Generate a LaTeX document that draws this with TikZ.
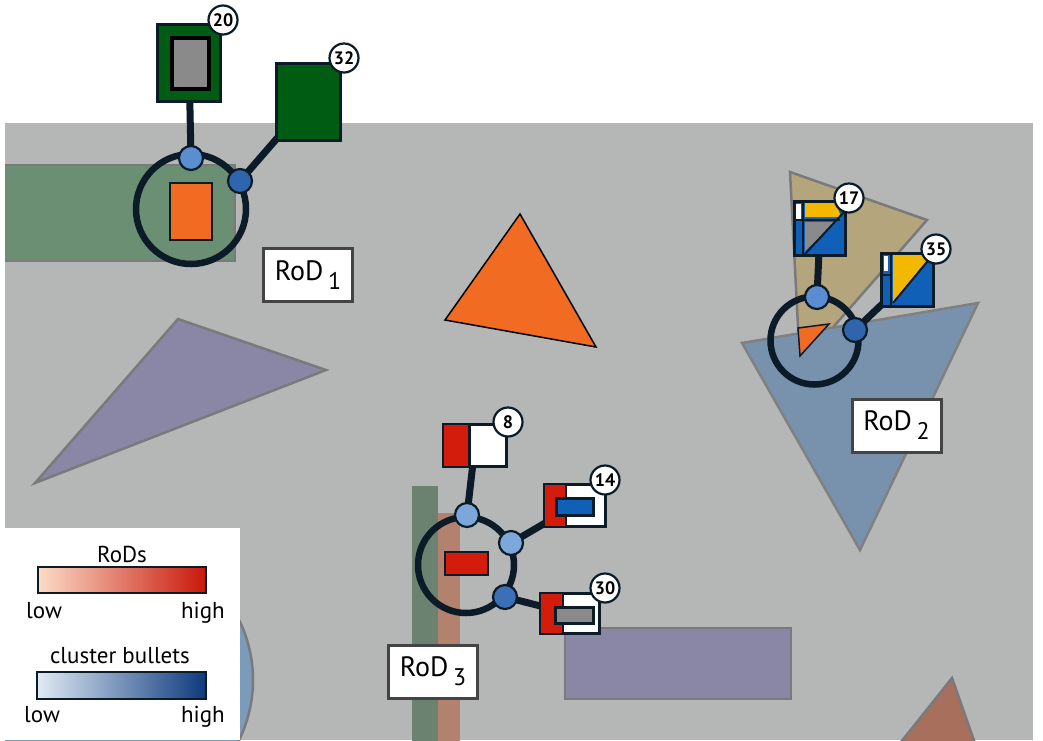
\documentclass[tikz,border=0pt]{standalone}
\usepackage{fontspec}
\setmainfont{PT Sans}
\usetikzlibrary{shapes.geometric}
\pgfdeclarelayer{bg}
\pgfdeclarelayer{conn}
\pgfsetlayers{bg,conn,main}
\definecolor{ink}{HTML}{0B1B27}
\definecolor{bgray}{HTML}{B5B6B6}
\definecolor{edgegray}{HTML}{7A7A7C}
\definecolor{grn}{HTML}{6A8F72}
\definecolor{grnbar}{HTML}{6C8270}
\definecolor{brnbar}{HTML}{B3826E}
\definecolor{purp}{HTML}{8A86A6}
\definecolor{orng}{HTML}{F26B22}
\definecolor{tan}{HTML}{B4A57D}
\definecolor{steel}{HTML}{7892AD}
\definecolor{circblue}{HTML}{7B9BBB}
\definecolor{brtri}{HTML}{A8705C}
\definecolor{dkgreen}{HTML}{005C12}
\definecolor{glyphblue}{HTML}{1060B8}
\definecolor{glyphyellow}{HTML}{F5B800}
\definecolor{glyphgray}{HTML}{8A8A8A}
\definecolor{glyphred}{HTML}{D41C0C}
\definecolor{labgray}{HTML}{444444}
\definecolor{bA}{HTML}{5A8ED0}
\definecolor{bB}{HTML}{2F65AD}
\definecolor{bC}{HTML}{7BA7DA}
\definecolor{bD}{HTML}{3B70B7}
\definecolor{rodlo}{HTML}{FBDCC8}
\definecolor{rodmid}{HTML}{EE8A5A}
\definecolor{rodhi}{HTML}{C8180A}
\definecolor{cblo}{HTML}{E0EAF4}
\definecolor{cbmid}{HTML}{7EA6D2}
\definecolor{cbhi}{HTML}{0D3A7D}
\begin{document}
\begin{tikzpicture}[x=1pt,y=-1pt,
  conn/.style={draw=ink,line width=7pt},
  ring/.style={circle,draw=ink,line width=6.5pt,inner sep=0pt},
  bullet/.style={circle,draw=ink,line width=2.2pt,inner sep=0pt,minimum size=24pt},
  glyph/.style={rectangle,draw=ink,line width=3pt,inner sep=0pt},
  badge/.style={circle,draw=ink,fill=white,line width=2.2pt,inner sep=0pt,minimum size=29pt,font=\bfseries\fontsize{18}{18}\selectfont},
  rodlabel/.style={rectangle,draw=labgray,fill=white,line width=3pt,minimum width=89pt,minimum height=53pt,inner sep=0pt,font=\fontsize{28}{28}\selectfont},
  legtext/.style={inner sep=0pt,font=\fontsize{23}{23}\selectfont},
  bgshape/.style={draw=edgegray,line width=2.5pt}
]
\useasboundingbox (0,0) rectangle (1043,740);
\begin{pgfonlayer}{bg}
\fill[white] (0,0) rectangle (1043,740);
\fill[bgray] (5,123) rectangle (1033,740);
\begin{scope}
\clip (5,123) rectangle (1033,740);
\filldraw[bgshape,fill=grn] (0,165) rectangle (235,261);
\fill[grnbar] (412,486) rectangle (438,745);
\fill[brnbar] (438,513) rectangle (460,745);
\filldraw[bgshape,fill=purp] (178,319) -- (326,370) -- (35,483) -- cycle;
\filldraw[fill=orng,draw=black,line width=1.5pt] (520,214) -- (596,347) -- (445,320) -- cycle;
\filldraw[bgshape,fill=tan] (790,172) -- (927,220) -- (800,365) -- cycle;
\filldraw[bgshape,fill=steel,draw=gray] (742,343) -- (978,303) -- (860,550) -- cycle;
\filldraw[bgshape,fill=circblue] (117,680) circle[radius=136];
\filldraw[bgshape,fill=purp] (565,628) rectangle (791,699);
\filldraw[bgshape,fill=brtri] (952,678) -- (978,752) -- (893,752) -- cycle;
\end{scope}
\filldraw[fill=orng,draw=ink,line width=2pt] (170,183) rectangle (212,240);
\filldraw[fill=orng,draw=ink,line width=1.5pt] (798,328) -- (829,324) -- (800,356) -- cycle;
\filldraw[fill=glyphred,draw=ink,line width=2pt] (445,552) rectangle (488,575);
\end{pgfonlayer}

% ---------- cluster 1 ----------
\node[bullet,fill=bA] (b11) at (191,158) {};
\node[bullet,fill=bB] (b12) at (240,181) {};
\node[glyph,fill=dkgreen,minimum width=63pt,minimum height=77pt] (s20) at (189,63) {};
\filldraw[fill=glyphgray,draw=black,line width=4pt] (172,38) rectangle (209,89);
\node[badge] (n20) at (223,20) {20};
\node[glyph,fill=dkgreen,minimum width=64pt,minimum height=77pt] (s32) at (308.5,102) {};
\node[badge] (n32) at (344,58) {32};
\node[rodlabel] (rod1) at (308,275) {RoD\,\raisebox{-0.32em}{\fontsize{24}{24}\selectfont 1}};

% ---------- cluster 2 ----------
\node[bullet,fill=bA] (b21) at (817,297) {};
\node[bullet,fill=bB] (b22) at (855,330) {};
\node[glyph,fill=glyphblue,minimum width=51pt,minimum height=54pt] (s17) at (820,228.5) {};
\fill[white] (795.5,203.5) rectangle (801,219);
\fill[glyphyellow] (805,203) -- (836,203) -- (841,217) -- (805,217) -- cycle;
\fill[glyphgray] (805,222) -- (836,222) -- (805,251) -- cycle;
\draw[ink,line width=2pt] (803,202) -- (803,255.5);
\draw[ink,line width=2pt] (795,220) -- (840,220);
\draw[ink,line width=2pt] (805,254) -- (845,211);
\node[badge] (n17) at (849,198) {17};
\node[glyph,fill=glyphblue,minimum width=52pt,minimum height=53pt] (s35) at (907.5,280) {};
\fill[white] (883.5,256) rectangle (888,271);
\fill[glyphyellow] (893,255) -- (931,255) -- (893,302) -- cycle;
\draw[ink,line width=2pt] (891,254.5) -- (891,306);
\draw[ink,line width=2pt] (882,275) -- (891,275);
\draw[ink,line width=2pt] (893,303) -- (932,256);
\node[badge] (n35) at (936,249) {35};
\node[rodlabel] (rod2) at (896.5,425.5) {RoD\,\raisebox{-0.32em}{\fontsize{24}{24}\selectfont 2}};

% ---------- cluster 3 ----------
\node[bullet,fill=bC] (b31) at (467,515) {};
\node[bullet,fill=bC] (b32) at (511,543) {};
\node[bullet,fill=bD] (b33) at (505,597) {};
\node[glyph,fill=white,minimum width=63pt,minimum height=42pt] (s8) at (475,445.5) {};
\fill[glyphred] (444,425) rectangle (469,466);
\draw[ink,line width=2.5pt] (469.5,424) -- (469.5,467);
\node[badge] (n8) at (508,422) {8};
\node[glyph,fill=white,minimum width=61pt,minimum height=42pt] (s14) at (575,505.5) {};
\fill[glyphred] (545,485) rectangle (565,526);
\draw[ink,line width=2.5pt] (566,484) -- (566,527);
\filldraw[fill=glyphblue,draw=ink,line width=3pt] (556,498.5) rectangle (593,515);
\node[badge] (n14) at (605,480) {14};
\node[glyph,fill=white,minimum width=59pt,minimum height=40pt] (s30) at (570,613.5) {};
\fill[glyphred] (541,594) rectangle (562,633);
\draw[ink,line width=2.5pt] (563,593) -- (563,634);
\filldraw[fill=glyphgray,draw=ink,line width=3pt] (555,607.5) rectangle (593,623);
\node[badge] (n30) at (605,588) {30};
\node[rodlabel] (rod3) at (433,671.5) {RoD\,\raisebox{-0.32em}{\fontsize{24}{24}\selectfont 3}};

% ---------- rings and connectors ----------
\begin{pgfonlayer}{conn}
\node[ring,minimum size=110pt] (ring1) at (191,209) {};
\node[ring,minimum size=88pt] (ring2) at (814.5,340.5) {};
\node[ring,minimum size=96pt] (ring3) at (466,565) {};
\draw[conn] (b11.center) -- (s20.center);
\draw[conn] (b12.center) -- (s32.center);
\draw[conn] (b21.center) -- (s17.center);
\draw[conn] (b22.center) -- (s35.center);
\draw[conn] (b31.center) -- (s8.center);
\draw[conn] (b32.center) -- (s14.center);
\draw[conn] (b33.center) -- (s30.center);
\end{pgfonlayer}

% ---------- legend ----------
\fill[white] (0,528) rectangle (240,740);
\node[legtext,anchor=base] (legrod) at (122,562) {RoDs};
\shade[left color=rodlo,middle color=rodmid,right color=rodhi] (38,567) rectangle (206,593);
\draw[ink,line width=2pt] (38,567) rectangle (206,593);
\node[legtext,anchor=base west] (lowA) at (26,618) {low};
\node[legtext,anchor=base east] (highA) at (225,618) {high};
\node[legtext,anchor=base] (legcb) at (120,663) {cluster bullets};
\shade[left color=cblo,middle color=cbmid,right color=cbhi] (37,672) rectangle (206,699);
\draw[ink,line width=2pt] (37,672) rectangle (206,699);
\node[legtext,anchor=base west] (lowB) at (24,722) {low};
\node[legtext,anchor=base east] (highB) at (225,722) {high};
\end{tikzpicture}
\end{document}
